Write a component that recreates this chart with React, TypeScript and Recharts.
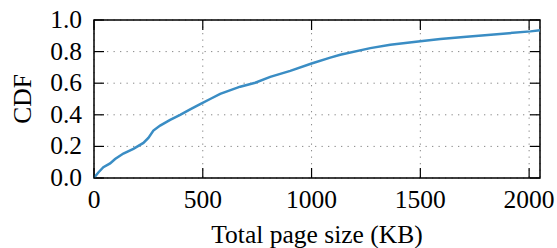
import { LineChart, Line, XAxis, YAxis, CartesianGrid, Label, ReferenceArea } from 'recharts'

const sizeKB = [0, 5, 20, 43, 74, 97, 135, 181, 227, 250, 273, 304, 350, 396, 442, 488, 534, 580, 672, 741, 810, 902, 1000, 1086, 1132, 1270, 1362, 1500, 1592, 1699, 1852, 2006, 2050]
const cdf = [0, 0.01, 0.035, 0.068, 0.092, 0.12, 0.155, 0.185, 0.222, 0.254, 0.3, 0.332, 0.368, 0.4, 0.434, 0.467, 0.5, 0.533, 0.578, 0.603, 0.64, 0.678, 0.725, 0.762, 0.78, 0.822, 0.843, 0.866, 0.88, 0.893, 0.91, 0.928, 0.935]
const xTicks = [0, 500, 1000, 1500, 2000]
const yTicks = [0, 0.2, 0.4, 0.6, 0.8, 1.0]

const data = sizeKB.map((x, i) => ({ x, y: cdf[i] }))

const W = 557
const H = 248
const MARGIN = { top: 20, right: 17, bottom: 0, left: 0 }
const PLOT_TOP = MARGIN.top
const PLOT_RIGHT = W - MARGIN.right

const FONT = '"Liberation Serif", "Times New Roman", serif'
const FS = 25.5
const TICK = 10
const X_DOMAIN: [number, number] = [0, 2050]
const Y_DOMAIN: [number, number] = [0, 1]

// bottom labels + inward ticks on bottom and top edges
const BottomTick = ({ x, y, payload }: any) => (
  <g>
    <line x1={x} y1={y} x2={x} y2={y - TICK} stroke="#000" strokeWidth={1.2} />
    <line x1={x} y1={PLOT_TOP} x2={x} y2={PLOT_TOP + TICK} stroke="#000" strokeWidth={1.2} />
    <text x={x} y={y + 29.5} textAnchor="middle" fontFamily={FONT} fontSize={FS} fill="#000">
      {payload.value}
    </text>
  </g>
)
// left labels + inward ticks on left and right edges
const LeftTick = ({ x, y, payload }: any) => (
  <g>
    <line x1={x} y1={y} x2={x + TICK} y2={y} stroke="#000" strokeWidth={1.2} />
    <line x1={PLOT_RIGHT} y1={y} x2={PLOT_RIGHT - TICK} y2={y} stroke="#000" strokeWidth={1.2} />
    <text x={x - 12} y={y + 8} textAnchor="end" fontFamily={FONT} fontSize={FS} fill="#000">
      {Number(payload.value).toFixed(1)}
    </text>
  </g>
)

const labelStyle = { fontFamily: FONT, fontSize: FS, fill: '#000' }

export default function App() {
  return (
    <div>
      <style>{`body{margin:0}`}</style>
      <LineChart width={W} height={H} data={data} margin={MARGIN}>
        <CartesianGrid stroke="#888" strokeDasharray="1.3 5.2" strokeWidth={1} />
        <XAxis
          dataKey="x" type="number" domain={X_DOMAIN} ticks={xTicks}
          height={70} tickSize={0} tickMargin={0} tickLine={false} axisLine={false}
          tick={<BottomTick />} interval={0}
        >
          <Label value="Total page size (KB)" position="insideBottom" offset={5}
            fontFamily={FONT} fontSize={FS} fill="#000" style={labelStyle} />
        </XAxis>
        <YAxis
          type="number" domain={Y_DOMAIN} ticks={yTicks} width={94}
          tickSize={0} tickMargin={0} tickLine={false} axisLine={false}
          tick={<LeftTick />} interval={0}
        >
          <Label value="CDF" angle={-90} position="insideLeft" offset={22}
            fontFamily={FONT} fontSize={FS} fill="#000"
            style={{ ...labelStyle, textAnchor: 'middle' }} />
        </YAxis>
        <ReferenceArea x1={X_DOMAIN[0]} x2={X_DOMAIN[1]} y1={Y_DOMAIN[0]} y2={Y_DOMAIN[1]}
          fill="none" fillOpacity={0} stroke="#000" strokeWidth={1.5} ifOverflow="visible" />
        <Line
          type="linear" dataKey="y" stroke="#3a8dc4" strokeWidth={2.5}
          dot={false} isAnimationActive={false}
        />
      </LineChart>
    </div>
  )
}
